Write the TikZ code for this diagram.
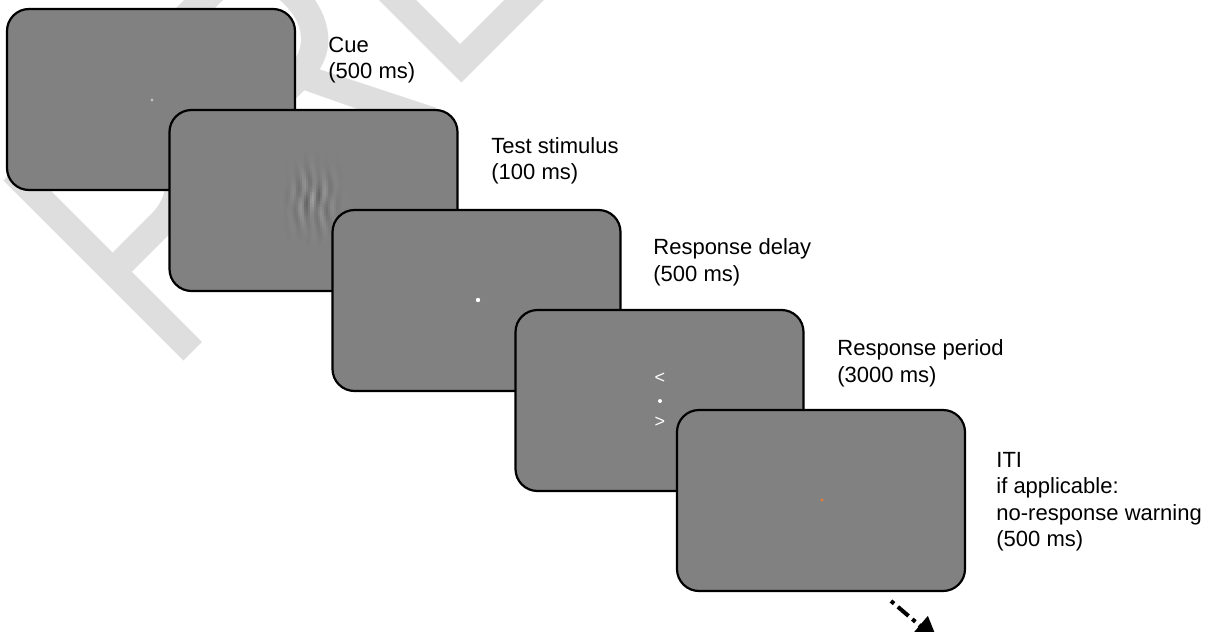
\documentclass[tikz,border=0pt]{standalone}
\usepackage{fontspec}
\setmainfont{Liberation Sans}
\usetikzlibrary{arrows.meta}
\definecolor{cardgray}{RGB}{128,129,128}
\definecolor{wmgray}{RGB}{222,222,222}
\definecolor{cueorange}{RGB}{232,122,52}
\definecolor{cuegray}{RGB}{190,190,190}
\begin{document}
\begin{tikzpicture}[x=0.5pt,y=-0.5pt,
 card/.style={draw=black, line width=1.1pt, fill=cardgray, rounded corners=11pt, minimum width=144pt, minimum height=90.5pt, inner sep=0pt, outer sep=0pt},
 lbl/.style={anchor=north west, align=left, inner sep=0pt, font=\fontsize{11}{13.25}\selectfont},
 fixdot/.style={circle, fill=white, inner sep=0pt, minimum size=2pt},
 chev/.style={text=white, inner sep=0pt, font=\fontsize{9}{9}\selectfont},
 dasharrow/.style={line width=2pt, dash pattern=on 2pt off 2.5pt on 7pt off 2.5pt, -{Triangle[length=12pt,width=12pt]}}
]
\useasboundingbox (0,0) rectangle (1222,632);
\fill[white] (0,0) rectangle (1222,632);
\clip (0,0) rectangle (1222,632);
% watermark
\node[rotate=45, anchor=base west, inner sep=0pt, text=wmgray, font=\fontsize{185}{185}\selectfont] (wm) at (167.5,377.5) {\scalebox{0.765}[1]{PRE}};
% card 1: cue
\node[card] (c1) at (151,99.5) {};
\node[fixdot, fill=cuegray, minimum size=1.6pt] (f1) at (152,100) {};
% card 2: test stimulus
\node[card] (c2) at (313.5,200.5) {};
\foreach \gx in {-32,-30,...,32}{
  \foreach \gy in {-46,-43,...,44}{
    \pgfmathsetmacro\gv{(0.16*cos(\gx*34+55*sin(\gy*7+20))+0.08*cos(\gx*22-\gy*9))*exp(0-((\gx)*(\gx))/380-((\gy)*(\gy))/750)}
    \pgfmathsetmacro\gw{max(\gv,0)}
    \pgfmathsetmacro\gb{max(0-(\gv),0)}
    \fill[white, opacity=\gw] (313+\gx-1,200+\gy-1.5) rectangle ++(2,3);
    \fill[black, opacity=\gb] (313+\gx-1,200+\gy-1.5) rectangle ++(2,3);
  }
}
% card 3: response delay
\node[card] (c3) at (476.5,300.5) {};
\node[fixdot, minimum size=2.2pt] (f3) at (478,300) {};
% card 4: response period
\node[card] (c4) at (659.5,400.5) {};
\node[chev] (lt) at (660,378) {<};
\node[fixdot, minimum size=2pt] (f4) at (660,401) {};
\node[chev] (gt) at (660,422) {>};
% card 5: ITI
\node[card] (c5) at (821,500.5) {};
\node[fixdot, fill=cueorange, minimum size=1.6pt] (f5) at (822,500) {};
% labels
\node[lbl] (l1) at (328,33.5) {\strut Cue\\\strut (500 ms)};
\node[lbl] (l2) at (491,134.5) {\strut Test stimulus\\\strut (100 ms)};
\node[lbl] (l3) at (653,236) {\strut Response delay\\\strut (500 ms)};
\node[lbl] (l4) at (837,337) {\strut Response period\\\strut (3000 ms)};
\node[lbl] (l5) at (996,448.5) {\strut ITI\\\strut if applicable:\\\strut no-response warning\\\strut (500 ms)};
% continuation arrow
\coordinate (a0) at (891,601);
\coordinate (a1) at (938,641);
\draw[dasharrow] (a0) -- (a1);
\end{tikzpicture}
\end{document}
